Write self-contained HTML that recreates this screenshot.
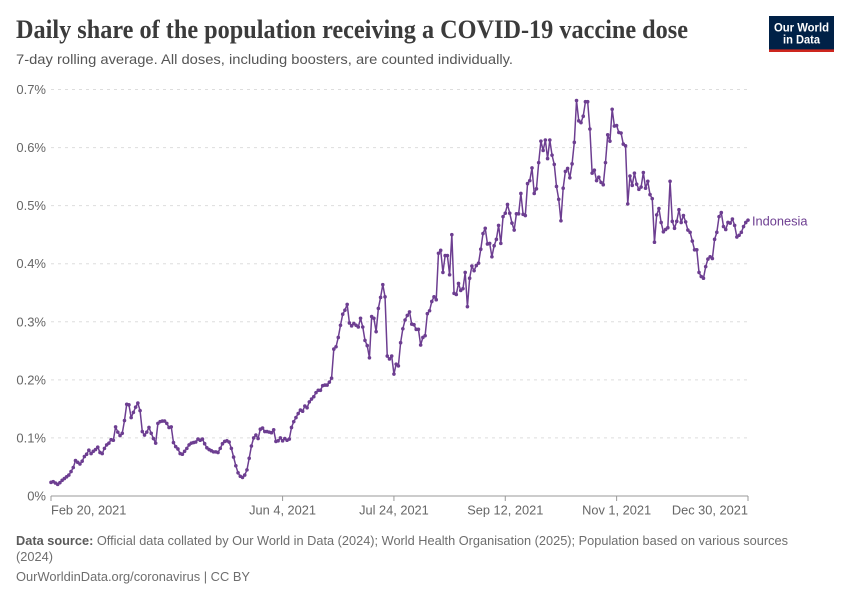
<!DOCTYPE html>
<html lang="en">
<head>
<meta charset="utf-8">
<title>Daily share of the population receiving a COVID-19 vaccine dose</title>
<style>
html,body{margin:0;padding:0;background:#fff;}
svg{display:block;font-family:"Liberation Sans",sans-serif;}
</style>
</head>
<body>
<svg id="chart" width="850" height="600" viewBox="0 0 850 600" xmlns="http://www.w3.org/2000/svg">
  <rect width="850" height="600" fill="#ffffff"/>
  <text x="16" y="38" font-family="'Liberation Serif',serif" font-weight="700" font-size="26" fill="#3b3b3b" textLength="672" lengthAdjust="spacingAndGlyphs">Daily share of the population receiving a COVID-19 vaccine dose</text>
  <text x="16" y="64" font-size="14" fill="#555555" textLength="497" lengthAdjust="spacingAndGlyphs">7-day rolling average. All doses, including boosters, are counted individually.</text>
  <g>
    <rect x="769" y="16" width="65" height="36" fill="#002147"/>
    <rect x="769" y="49.4" width="65" height="2.6" fill="#ce261e"/>
    <text x="801.5" y="31.5" text-anchor="middle" font-size="12" font-weight="700" fill="#ffffff" textLength="55" lengthAdjust="spacingAndGlyphs">Our World</text>
    <text x="801.5" y="43.5" text-anchor="middle" font-size="12" font-weight="700" fill="#ffffff" textLength="37" lengthAdjust="spacingAndGlyphs">in Data</text>
  </g>
  <g id="grid"></g>
  <g id="yAxis"></g>
  <g id="xAxis"></g>
  <g id="series"></g>
  <text x="16" y="545" font-size="13" fill="#6e6e6e" textLength="772" lengthAdjust="spacingAndGlyphs"><tspan font-weight="700" fill="#5b5b5b">Data source:</tspan> Official data collated by Our World in Data (2024); World Health Organisation (2025); Population based on various sources</text>
  <text x="16" y="561" font-size="13" fill="#6e6e6e" textLength="37" lengthAdjust="spacingAndGlyphs">(2024)</text>
  <text x="16" y="581" font-size="13" fill="#6e6e6e" textLength="234" lengthAdjust="spacingAndGlyphs">OurWorldinData.org/coronavirus | CC BY</text>
</svg>
<script>
var seriesName = 'Indonesia';
var tickDays = [0, 104, 154, 204, 254, 313];
var tickLabels = ['Feb 20, 2021', 'Jun 4, 2021', 'Jul 24, 2021', 'Sep 12, 2021', 'Nov 1, 2021', 'Dec 30, 2021'];
var yTicks = [0, 0.1, 0.2, 0.3, 0.4, 0.5, 0.6, 0.7];
var yTickLabels = ['0%', '0.1%', '0.2%', '0.3%', '0.4%', '0.5%', '0.6%', '0.7%'];
var dailyShare = [
.0235,.0247,.0224,.0201,.023,.027,.03,.033,.036,.042,
.049,.061,.058,.055,.06,.068,.072,.079,.073,.077,
.08,.084,.075,.073,.082,.088,.091,.097,.096,.119,
.11,.104,.108,.13,.158,.157,.135,.144,.153,.16,
.147,.111,.105,.11,.118,.108,.099,.091,.125,.128,
.129,.129,.125,.118,.119,.092,.085,.081,.073,.072,
.077,.082,.088,.091,.092,.093,.098,.096,.098,.09,
.083,.08,.078,.076,.076,.075,.082,.09,.094,.095,
.093,.082,.067,.052,.04,.034,.032,.036,.045,.065,
.086,.1,.105,.099,.115,.117,.111,.111,.11,.109,
.114,.094,.095,.1,.095,.099,.096,
.098,.118,.128,.135,.142,.148,.146,.155,.152,.162,
.167,.171,.178,.182,.182,.19,.191,.191,.196,.203,
.253,.257,.273,.294,.313,.32,.33,.298,.293,.297,
.294,.291,.306,.291,.268,.259,.238,.309,.306,.283,
.323,.342,.364,.343,.241,.236,.241,.21,.227,.224,
.264,.288,.303,.311,.317,.296,.295,.287,.287,.26,
.273,.276,.314,.319,.335,.343,.338,.418,.423,.385,
.414,.414,.381,.45,.349,.347,.366,.354,.357,.385,
.326,.375,.396,.388,.397,.401,
.425,.452,.461,.434,.435,.412,.431,.442,.466,.435,
.481,.487,.502,.487,.47,.458,.486,.486,.521,.485,
.483,.538,.543,.565,.521,.529,.574,.611,.595,.613,
.581,.613,.587,.571,.533,.511,.474,.53,.559,.564,
.548,.572,.609,.681,.646,.643,.654,.679,.679,.632,
.556,.561,.543,.549,.54,.536,.574,.622,.611,.666,
.637,.638,.626,.625,.606,.603,.503,
.551,.535,.556,.537,.528,.532,.557,.53,.542,.519,
.512,.437,.484,.495,.471,.455,.459,.462,.542,.473,
.461,.473,.493,.471,.483,.472,.458,.454,.439,.424,
.424,.385,.378,.375,.395,.408,.412,.409,.442,.454,
.481,.488,.464,.459,.471,.47,.477,.466,.446,.449,
.454,.464,.471,.475
];

var NS = 'http://www.w3.org/2000/svg';
var plot = { left: 51, right: 748, top: 89.5, bottom: 496 };
var yMax = 0.7;
var dayMax = 313;
function xScale(d) { return plot.left + (d / dayMax) * (plot.right - plot.left); }
function yScale(v) { return plot.bottom - (v / yMax) * (plot.bottom - plot.top); }
function make(tag, parent) {
  var el = document.createElementNS(NS, tag);
  parent.appendChild(el);
  return el;
}
var gridG = document.getElementById('grid');
var yAxisG = document.getElementById('yAxis');
var xAxisG = document.getElementById('xAxis');
var seriesG = document.getElementById('series');

yTicks.forEach(function (t, i) {
  if (t > 0) {
    var line = make('line', gridG);
    
    
    line.setAttribute('x1', plot.left);
    line.setAttribute('x2', plot.right);
    line.setAttribute('y1', yScale(t));
    line.setAttribute('y2', yScale(t));
    line.setAttribute('stroke', '#dddddd');
    line.setAttribute('stroke-dasharray', '3,4');
  }
  var label = make('text', yAxisG);
  
  
  label.setAttribute('x', 46);
  label.setAttribute('y', yScale(t) + 4.5);
  label.setAttribute('text-anchor', 'end');
  label.setAttribute('font-size', '13');
  label.setAttribute('fill', '#666666');
  label.textContent = yTickLabels[i];
});

var axisLine = make('line', xAxisG);


axisLine.setAttribute('x1', plot.left);
axisLine.setAttribute('x2', plot.right);
axisLine.setAttribute('y1', plot.bottom);
axisLine.setAttribute('y2', plot.bottom);
axisLine.setAttribute('stroke', '#999999');

tickDays.forEach(function (d, i) {
  var tick = make('line', xAxisG);
  
  
  tick.setAttribute('x1', xScale(d));
  tick.setAttribute('x2', xScale(d));
  tick.setAttribute('y1', plot.bottom);
  tick.setAttribute('y2', plot.bottom + 5);
  tick.setAttribute('stroke', '#999999');
  var label = make('text', xAxisG);
  
  
  label.setAttribute('x', xScale(d));
  label.setAttribute('y', 514.5);
  label.setAttribute('text-anchor', i === 0 ? 'start' : (i === tickDays.length - 1 ? 'end' : 'middle'));
  label.setAttribute('font-size', '12.8');
  label.setAttribute('fill', '#666666');
  label.textContent = tickLabels[i];
});

var pathD = '';
dailyShare.forEach(function (v, i) {
  pathD += (i === 0 ? 'M' : 'L') + xScale(i).toFixed(2) + ' ' + yScale(v).toFixed(2);
});
var seriesLine = make('path', seriesG);


seriesLine.setAttribute('d', pathD);
seriesLine.setAttribute('fill', 'none');
seriesLine.setAttribute('stroke', '#6d3e91');
seriesLine.setAttribute('stroke-width', '1.5');
seriesLine.setAttribute('stroke-linejoin', 'round');

dailyShare.forEach(function (v, i) {
  var dot = make('circle', seriesG);
  
  
  dot.setAttribute('cx', xScale(i));
  dot.setAttribute('cy', yScale(v));
  dot.setAttribute('r', '1.8');
  dot.setAttribute('fill', '#6d3e91');
});

var lastValue = dailyShare[dailyShare.length - 1];
var seriesLabel = make('text', seriesG);


seriesLabel.setAttribute('x', xScale(dailyShare.length - 1) + 4);
seriesLabel.setAttribute('y', yScale(lastValue) + 5.5);
seriesLabel.setAttribute('font-size', '12.8');
seriesLabel.setAttribute('fill', '#6d3e91');
seriesLabel.textContent = seriesName;
</script>
</body>
</html>
